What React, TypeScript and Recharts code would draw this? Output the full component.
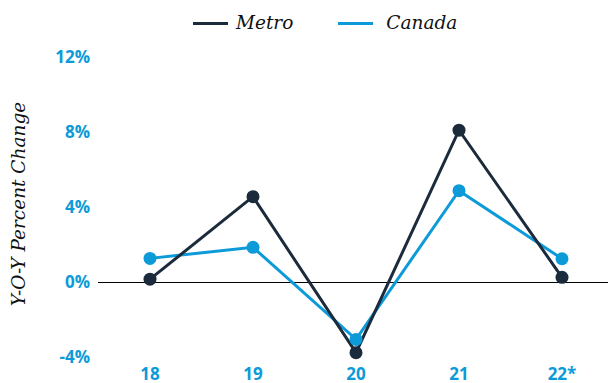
import React from 'react';
import { LineChart, Line, XAxis, YAxis, ReferenceLine } from 'recharts';

const years = ['18', '19', '20', '21', '22*'];
const metro = [0.15, 4.55, -3.77, 8.1, 0.25];
const canada = [1.26, 1.85, -3.06, 4.87, 1.24];
const yTicks = [-4, 0, 4, 8, 12];

const DARK = '#1c2b3c';
const BLUE = '#0c9ad8';
const SERIF = '"DejaVu Serif", "Liberation Serif", serif';
const SANS = '"Open Sans", "Noto Sans", sans-serif';

const data = years.map((year, i) => ({ year, metro: metro[i], canada: canada[i] }));

const legendItems = [
  { name: 'Metro', color: DARK },
  { name: 'Canada', color: BLUE },
];

// legend sits above the plot as plain html so it doesn't push the plot down
const ChartLegend = () => (
  <div style={{ position: 'absolute', left: 193, top: 11, display: 'flex', alignItems: 'center' }}>
    {legendItems.map((item, i) => (
      <div key={item.name} style={{ display: 'flex', alignItems: 'center', marginRight: i === 0 ? 45 : 0 }}>
        <span style={{ display: 'inline-block', width: 35, height: 3, background: item.color, marginRight: i === 0 ? 8 : 13 }} />
        <span style={{ fontFamily: SERIF, fontStyle: 'italic', fontSize: 18.5, color: '#111', lineHeight: '24px' }}>
          {item.name}
        </span>
      </div>
    ))}
  </div>
);

const YLabel = () => (
  <text
    x={25}
    y={204}
    transform="rotate(-90, 25, 204)"
    textAnchor="middle"
    fontFamily={SERIF}
    fontStyle="italic"
    fontSize={18.5}
    fill="#111"
  >
    Y-O-Y Percent Change
  </text>
);

export default function App() {
  return (
    <div style={{ position: 'absolute', left: 0, top: 0, width: 608, height: 383, background: '#fff' }}>
      <LineChart width={608} height={383} data={data} margin={{ top: 57, right: 0, bottom: 0, left: 0 }}>
        <XAxis
          dataKey="year"
          axisLine={false}
          tickLine={false}
          height={26}
          tickMargin={5}
          padding={{ left: 52, right: 46 }}
          tick={{ fill: BLUE, fontFamily: SANS, fontWeight: 700, fontSize: 17 }}
        />
        <YAxis
          domain={[-4, 12]}
          ticks={yTicks}
          width={98}
          axisLine={false}
          tickLine={false}
          tickFormatter={(v: number) => `${v}%`}
          tick={{ fill: BLUE, fontFamily: SANS, fontWeight: 700, fontSize: 17 }}
          label={<YLabel />}
        />
        <ReferenceLine y={0} stroke="#000" strokeWidth={1} shapeRendering="crispEdges" />
        <Line
          type="linear"
          dataKey="canada"
          name="Canada"
          stroke={BLUE}
          strokeWidth={3}
          dot={{ r: 6.5, fill: BLUE, stroke: 'none' }}
          activeDot={false}
          isAnimationActive={false}
        />
        <Line
          type="linear"
          dataKey="metro"
          name="Metro"
          stroke={DARK}
          strokeWidth={3}
          dot={{ r: 6.5, fill: DARK, stroke: 'none' }}
          activeDot={false}
          isAnimationActive={false}
        />
      </LineChart>
      <ChartLegend />
    </div>
  );
}
